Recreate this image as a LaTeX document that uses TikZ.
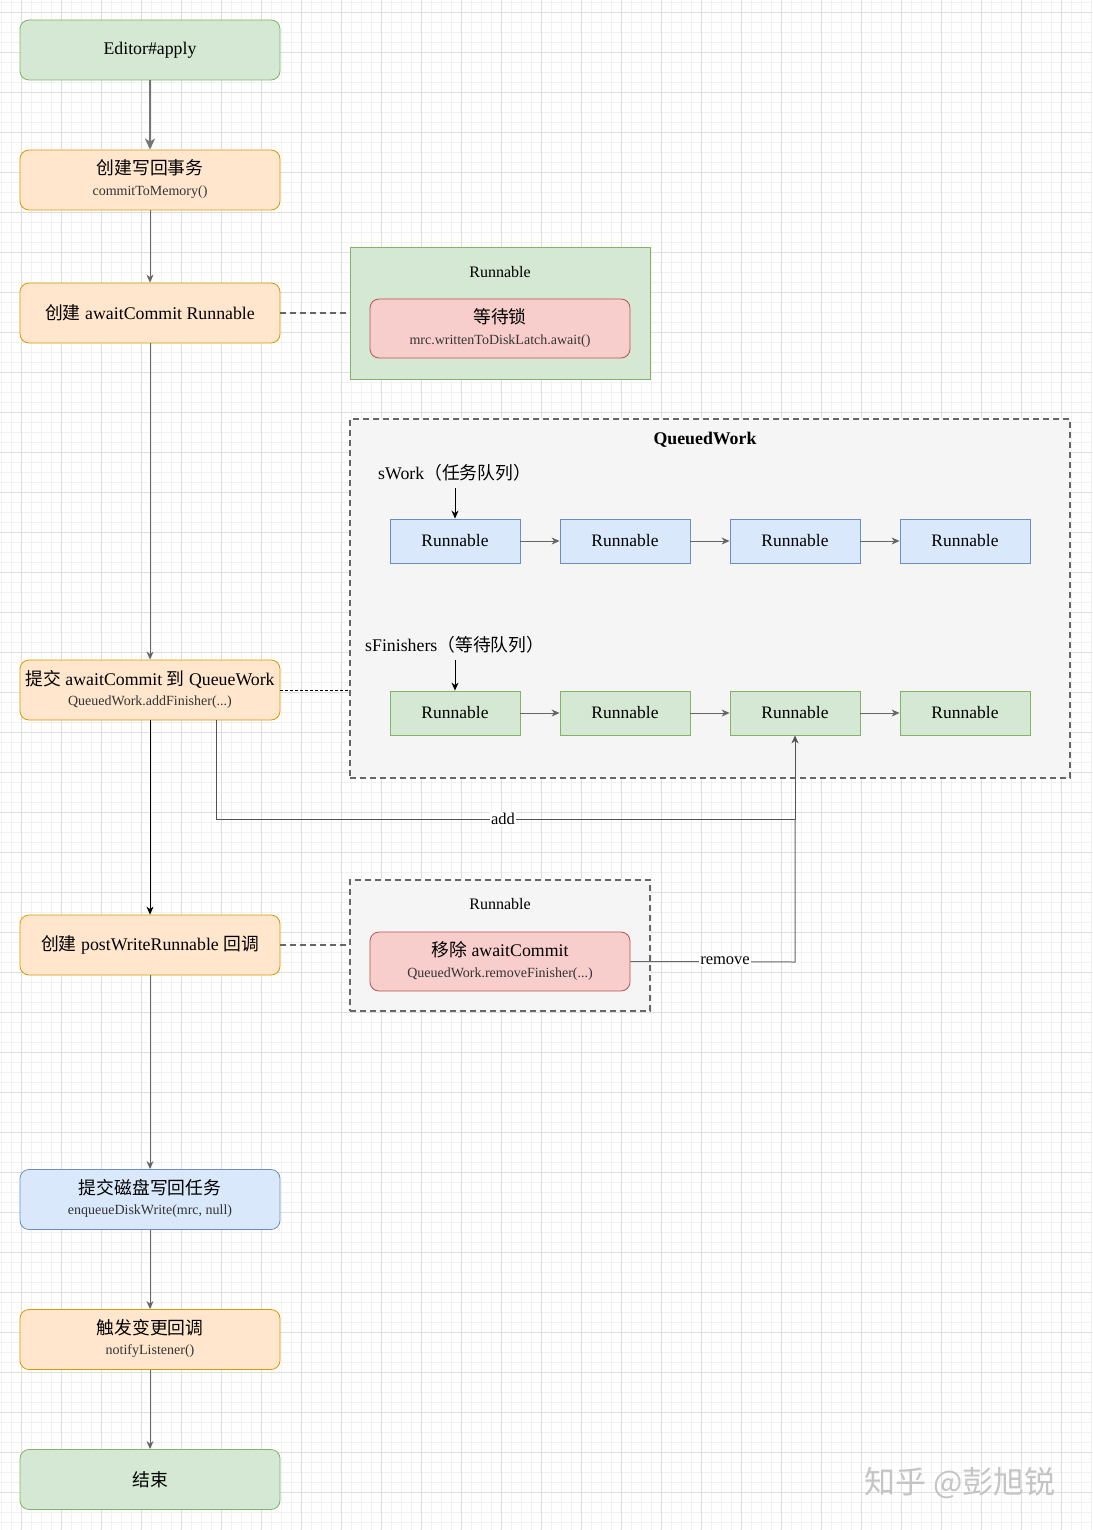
\documentclass[tikz,border=0pt]{standalone}
\usepackage{fontspec}
\setmainfont{Liberation Serif}
\newfontfamily\cjk{Noto Sans CJK SC}
\usetikzlibrary{arrows.meta}
\definecolor{gfill}{HTML}{D5E8D4}
\definecolor{gline}{HTML}{82B366}
\definecolor{ofill}{HTML}{FFE6CC}
\definecolor{oline}{HTML}{D79B00}
\definecolor{bfill}{HTML}{DAE8FC}
\definecolor{bline}{HTML}{6C8EBF}
\definecolor{rfill}{HTML}{F8CECC}
\definecolor{rline}{HTML}{B85450}
\definecolor{qfill}{HTML}{F5F5F5}
\definecolor{qline}{HTML}{666666}
\definecolor{subc}{HTML}{333333}
\definecolor{minorg}{HTML}{F1F1F1}
\definecolor{majorg}{HTML}{DEDEDE}
\definecolor{wmark}{HTML}{C4C4C4}
\tikzset{
  flow/.style={draw, rounded corners=9pt, minimum width=260pt, minimum height=60pt, inner sep=0pt, line width=0.8pt},
  gbox/.style={flow, fill=gfill, draw=gline},
  obox/.style={flow, fill=ofill, draw=oline},
  bbox/.style={flow, fill=bfill, draw=bline},
  rbox/.style={flow, fill=rfill, draw=rline, minimum height=59pt},
  qitem/.style={draw, minimum width=130pt, minimum height=44pt, inner sep=0pt, line width=0.8pt, font=\fontsize{17.5}{20}\selectfont},
  qblue/.style={qitem, fill=bfill, draw=bline},
  qgreen/.style={qitem, fill=gfill, draw=gline},
  ttl/.style={inner sep=0pt, font=\fontsize{17.8}{20}\selectfont},
  subt/.style={inner sep=0pt, text=subc, font=\fontsize{14}{16}\selectfont},
  small/.style={inner sep=0pt, font=\fontsize{16}{18}\selectfont},
  arr/.style={draw=qline, line width=1pt, -{Stealth[length=8pt,width=7pt,inset=2.5pt]}},
  thickarr/.style={draw=qline!90, line width=2.2pt, -{Stealth[length=11pt,width=10pt,inset=3pt]}},
  blackarr/.style={draw=black, line width=1pt, -{Stealth[length=8pt,width=7pt,inset=2.5pt]}},
  dashlink/.style={draw=qline, line width=1.6pt, dash pattern=on 6pt off 4pt},
  finelink/.style={draw=black, line width=0.9pt, dash pattern=on 3pt off 2pt},
  lbl/.style={fill=white, inner sep=1pt, font=\fontsize{16.5}{19}\selectfont},
}
\begin{document}
\begin{tikzpicture}[x=1pt,y=-1pt]
\useasboundingbox (0,0) rectangle (1092,1530);
\fill[white] (0,0) rectangle (1092,1530);
% grid
\foreach \x in {1.5,11.5,...,1091.5} \draw[minorg, line width=0.6pt] (\x,0) -- (\x,1530);
\foreach \y in {2,12,...,1530} \draw[minorg, line width=0.6pt] (0,\y) -- (1092,\y);
\foreach \x in {21.5,61.5,...,1091.5} \draw[majorg, line width=0.8pt] (\x,0) -- (\x,1530);
\foreach \y in {12,52,...,1530} \draw[majorg, line width=0.8pt] (0,\y) -- (1092,\y);

% main flow
\node[gbox] (n1) at (150,50) {};
\node[ttl] (n1t) at (150,50) {Editor\#apply};

\node[obox] (n2) at (150,180) {};
\node[ttl] (n2t) at (150,168) {\cjk 创建写回事务};
\node[subt] (n2s) at (150,192) {commitToMemory()};

\node[obox] (n3) at (150,313) {};
\node[ttl] (n3t) at (150,313) {{\cjk 创建} awaitCommit Runnable};

\node[obox] (n4) at (150,690) {};
\node[ttl] (n4t) at (150,679) {{\cjk 提交} awaitCommit {\cjk 到} QueueWork};
\node[subt] (n4s) at (150,702) {QueuedWork.addFinisher(...)};

\node[obox] (n5) at (150,945) {};
\node[ttl] (n5t) at (150,945) {{\cjk 创建} postWriteRunnable {\cjk 回调}};

\node[bbox] (n6) at (150,1199.5) {};
\node[ttl] (n6t) at (150,1187.5) {\cjk 提交磁盘写回任务};
\node[subt] (n6s) at (150,1211.5) {enqueueDiskWrite(mrc, null)};

\node[obox] (n7) at (150,1339.5) {};
\node[ttl] (n7t) at (150,1327.5) {\cjk 触发变更回调};
\node[subt] (n7s) at (150,1351.5) {notifyListener()};

\node[gbox] (n8) at (150,1479.5) {};
\node[ttl] (n8t) at (150,1479.5) {\cjk 结束};

% Runnable (await lock)
\node[draw=gline, fill=gfill, line width=0.8pt, minimum width=300pt, minimum height=132pt, inner sep=0pt] (rw) at (500,313) {};
\node[small] (rwt) at (500,272) {Runnable};
\node[rbox] (lock) at (500,328.5) {};
\node[ttl] (lockt) at (500,317) {\cjk 等待锁};
\node[subt] (locks) at (500,341) {mrc.writtenToDiskLatch.await()};

% QueuedWork
\node[draw=qline, fill=qfill, line width=1.6pt, dash pattern=on 6pt off 4pt, minimum width=720pt, minimum height=359pt, inner sep=0pt] (qw) at (710,598.5) {};
\node[inner sep=0pt, font=\fontsize{17.8}{20}\selectfont\bfseries] (qwt) at (705,440) {QueuedWork};
\node[ttl, anchor=west] (swl) at (378,473) {sWork{\cjk （任务队列）}};
\node[ttl, anchor=west] (sfl) at (365,645) {sFinishers{\cjk （等待队列）}};

\node[qblue] (b1) at (455,541) {Runnable};
\node[qblue] (b2) at (625,541) {Runnable};
\node[qblue] (b3) at (795,541) {Runnable};
\node[qblue] (b4) at (965,541) {Runnable};
\node[qgreen] (g1) at (455,713) {Runnable};
\node[qgreen] (g2) at (625,713) {Runnable};
\node[qgreen] (g3) at (795,713) {Runnable};
\node[qgreen] (g4) at (965,713) {Runnable};

\coordinate (swp) at (455,488);
\coordinate (sfp) at (455,660);
\draw[blackarr] (swp) -- (b1);
\draw[blackarr] (sfp) -- (g1);
\draw[arr] (b1) -- (b2);
\draw[arr] (b2) -- (b3);
\draw[arr] (b3) -- (b4);
\draw[arr] (g1) -- (g2);
\draw[arr] (g2) -- (g3);
\draw[arr] (g3) -- (g4);

% Runnable (remove)
\node[draw=qline, fill=qfill, line width=1.6pt, dash pattern=on 6pt off 4pt, minimum width=300pt, minimum height=131pt, inner sep=0pt] (rm) at (500,945.5) {};
\node[small] (rmt) at (500,904) {Runnable};
\node[rbox] (rmv) at (500,961.5) {};
\node[ttl] (rmvt) at (500,950) {{\cjk 移除} awaitCommit};
\node[subt] (rmvs) at (500,974) {QueuedWork.removeFinisher(...)};

% main arrows
\draw[thickarr] (n1) -- (n2);
\draw[arr] (n2) -- (n3);
\draw[arr] (n3) -- (n4);
\draw[blackarr] (n4) -- (n5);
\draw[arr] (n5) -- (n6);
\draw[arr] (n6) -- (n7);
\draw[arr] (n7) -- (n8);

% dashed associations
\draw[dashlink] (n3.east) -- (rw.west |- n3.east);
\draw[finelink] (n4.east) -- (qw.west |- n4.east);
\draw[dashlink] (n5.east) -- (rm.west |- n5.east);

% add / remove
\coordinate (adds) at (216,720);
\draw[arr, draw=qline!80!black] (adds) -- (216,819) -| (g3.south);
\node[lbl] (addl) at (503,819) {add};
\draw[draw=qline, line width=1pt] (rmv.east) -- (795,962) -- (795,819);
\node[lbl] (rml) at (725,961) {remove};

% watermark
\node[inner sep=0pt, text=wmark, font=\cjk\fontsize{31}{34}\selectfont] (wm) at (960,1483) {知乎 @彭旭锐};
\end{tikzpicture}
\end{document}
